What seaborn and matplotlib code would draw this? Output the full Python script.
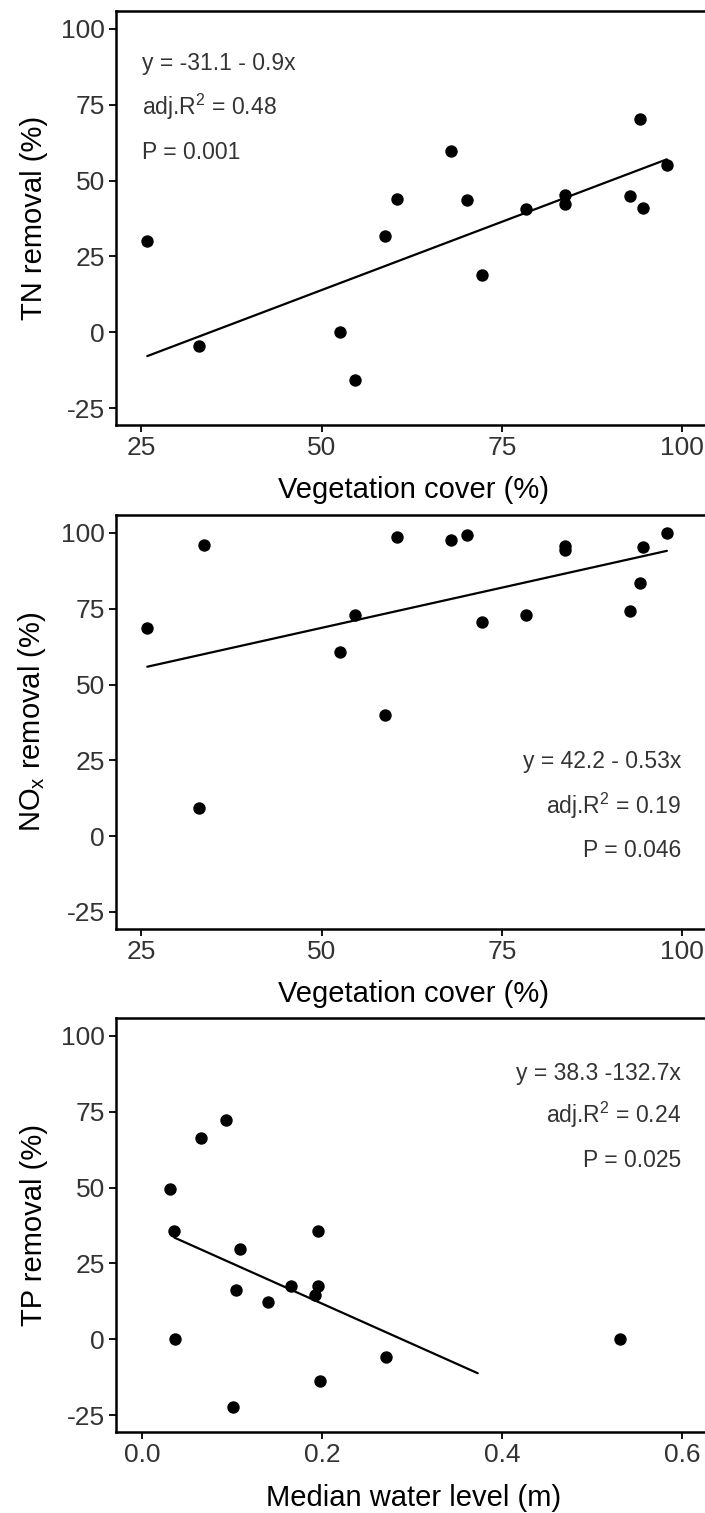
import numpy as np
import pandas as pd
import matplotlib
matplotlib.use('Agg')
import matplotlib.pyplot as plt
import seaborn as sns

# Données
veg_tn = [25.8, 33.0, 52.6, 54.6, 58.8, 60.5, 67.9, 70.1, 72.3, 78.3, 83.8, 83.8, 92.8, 94.2, 94.6, 97.9]
tn_removal = [30.1, -4.7, 0.0, -15.7, 31.7, 43.8, 59.9, 43.5, 18.7, 40.5, 45.2, 42.4, 45.0, 70.3, 40.8, 55.2]

veg_nox = [25.8, 33.0, 33.7, 52.6, 54.6, 58.8, 60.5, 67.9, 70.1, 72.3, 78.3, 83.8, 83.8, 92.8, 94.2, 94.6, 97.9]
nox_removal = [68.8, 9.2, 95.9, 60.6, 72.9, 40.0, 98.7, 97.7, 99.2, 70.7, 73.0, 95.7, 94.4, 74.1, 83.4, 95.4, 100.1]

water_level = [0.031, 0.036, 0.037, 0.066, 0.093, 0.101, 0.104, 0.109, 0.140, 0.166,
               0.192, 0.196, 0.196, 0.198, 0.271, 0.531]
tp_removal = [49.7, 35.8, 0.0, 66.3, 72.3, -22.4, 16.3, 29.7, 12.2, 17.6,
              14.6, 35.8, 17.6, -13.7, -6.0, 0.0]

# coefficients des droites (intercept, pente) et étendue de l'ajustement
tn_fit = (-31.1, 0.9)
nox_fit = (42.2, 0.53)
tp_fit = (38.3, -132.7)
tp_fit_range = [0.036, 0.373]

tn_text = ['y = -31.1 - 0.9x', r'adj.R$^2$ = 0.48', 'P = 0.001']
nox_text = ['y = 42.2 - 0.53x', r'adj.R$^2$ = 0.19', 'P = 0.046']
tp_text = ['y = 38.3 -132.7x', r'adj.R$^2$ = 0.24', 'P = 0.025']

sns.set_theme(style='white')
plt.rcParams['font.family'] = ['Liberation Sans', 'DejaVu Sans']
plt.rcParams['mathtext.fontset'] = 'custom'
plt.rcParams['mathtext.rm'] = 'Liberation Sans'
plt.rcParams['mathtext.it'] = 'Liberation Sans'
plt.rcParams['axes.unicode_minus'] = False

fig = plt.figure(figsize=(7.05, 15.13), dpi=100)
left, width, height = 0.1645, 0.8454, 0.2732
ax1 = fig.add_axes([left, 0.7193, width, height])
ax2 = fig.add_axes([left, 0.3862, width, height])
ax3 = fig.add_axes([left, 0.0537, width, height])

panels = [
    (ax1, veg_tn, tn_removal, tn_fit, [min(veg_tn), max(veg_tn)], 'TN removal (%)',
     'Vegetation cover (%)', tn_text),
    (ax2, veg_nox, nox_removal, nox_fit, [min(veg_nox), max(veg_nox)], r'NO$_\mathregular{x}$ removal (%)',
     'Vegetation cover (%)', nox_text),
    (ax3, water_level, tp_removal, tp_fit, tp_fit_range, 'TP removal (%)',
     'Median water level (m)', tp_text),
]

for ax, x, y, fit, rng, ylab, xlab, txt in panels:
    df = pd.DataFrame({'x': x, 'y': y})
    sns.scatterplot(data=df, x='x', y='y', ax=ax, color='black', s=80, linewidth=0)
    line = pd.DataFrame({'x': rng})
    line['y'] = fit[0] + fit[1] * line['x']
    sns.lineplot(data=line, x='x', y='y', ax=ax, color='black', linewidth=1.6)
    ax.set_ylim(-30.5, 105.8)
    ax.set_yticks([-25, 0, 25, 50, 75, 100])
    ax.set_ylabel(ylab, fontsize=21, color='black', labelpad=9)
    ax.set_xlabel(xlab, fontsize=21, color='black', labelpad=12)
    ax.tick_params(axis='both', which='major', labelsize=19, labelcolor='#333333',
                   direction='out', length=5, width=1.3, color='black', pad=3,
                   bottom=True, left=True)
    for sp in ax.spines.values():
        sp.set_linewidth(1.8)
        sp.set_color('black')

ax1.set_xlim(21.46, 104.16)
ax2.set_xlim(21.46, 104.16)
ax1.set_xticks([25, 50, 75, 100])
ax2.set_xticks([25, 50, 75, 100])
ax3.set_xlim(-0.0289, 0.6333)
ax3.set_xticks([0.0, 0.2, 0.4, 0.6])
ax3.set_xticklabels(['0.0', '0.2', '0.4', '0.6'])

# annotations
for t, yy in zip(tn_text, [86.5, 71.7, 57.1]):
    ax1.text(25.07, yy, t, fontsize=16.5, color='#333333', ha='left', va='baseline')
for t, yy in zip(nox_text, [22.6, 7.4, -6.8]):
    ax2.text(99.86, yy, t, fontsize=16.5, color='#333333', ha='right', va='baseline')
for t, yy in zip(tp_text, [85.5, 71.4, 56.8]):
    ax3.text(0.599, yy, t, fontsize=16.5, color='#333333', ha='right', va='baseline')

plt.savefig('out.png', dpi=100)
